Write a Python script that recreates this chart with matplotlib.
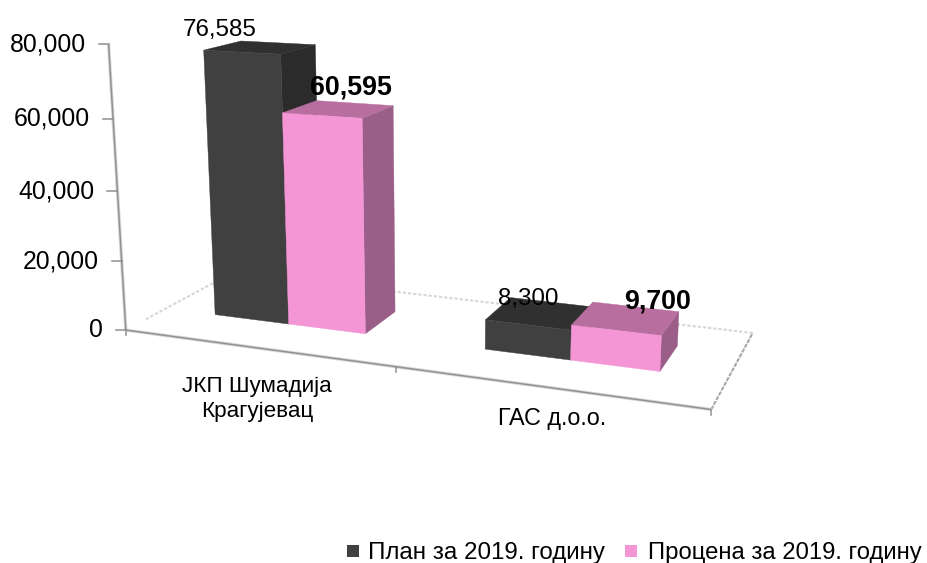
import numpy as np
import matplotlib
matplotlib.use("Agg")
import matplotlib.pyplot as plt
from matplotlib.patches import Polygon, Rectangle

plt.rcParams['font.family'] = ['Liberation Sans', 'DejaVu Sans']

# ---- data ----
categories = ["JКП Шумадија\nКрагујевац", "ГАС д.о.о."]
plan = [76585, 8300]
estimate = [60595, 9700]
series_names = ["План за 2019. годину", "Процена за 2019. годину"]
y_ticks = [0, 20000, 40000, 60000, 80000]
VMAX = 80000

# ---- style ----
DARK = dict(front="#404040", top="#303030", side="#2b2b2b")
PINK = dict(front="#F496D6", top="#B86F9F", side="#9A5E88")
HALF_W = 0.29
CENTERS = [0.49, 1.5]
D0, D1 = 0.35, 0.70

# ---- perspective scale: (category x, depth, value) -> canvas, calibrated once ----
CAL = [
    (0, 0, 0, 126, 328), (1, 0, 0, 397, 365), (2, 0, 0, 714, 406), (2, 1, 0, 752, 331),
    (0, 1, 0, 235, 273), (0, 0, VMAX, 110, 44), (0, 0, VMAX, 110, 44), (0, 0, 60000, 115, 117),
    (.20, D0, 0, 212, 315), (.49, D0, 0, 286, 325), (.78, D0, 0, 365, 335),
    (1.21, D0, 0, 485, 352), (1.5, D0, 0, 571, 362), (1.79, D0, 0, 660, 373),
    (.20, D0, 76585, 201, 49), (.49, D0, 76585, 280, 53),
    (.49, D0, 60595, 281, 116), (.78, D0, 60595, 361, 122), (.78, D0, 60595, 361, 122),
    (.78, D1, 60595, 395, 105), (.78, D1, 0, 396, 311),
    (.20, D1, 76585, 240, 39), (.49, D1, 76585, 317, 44),
    (1.79, D0, 9700, 660, 335), (1.79, D1, 9700, 679, 310), (1.21, D0, 8300, 485, 321),
]
A, b = [], []
for x, d, v, px, py in CAL:
    v = v / VMAX
    A.append([x, d, v, 1, 0, 0, 0, 0, -px * x, -px * d, -px * v]); b.append(px)
    A.append([0, 0, 0, 0, x, d, v, 1, -py * x, -py * d, -py * v]); b.append(py)
sol = np.linalg.lstsq(np.array(A, float), np.array(b, float), rcond=None)[0]
P = np.append(sol, 1.0).reshape(3, 4)


def proj(x, d, v):
    h = P @ np.array([x, d, v / VMAX, 1.0])
    return h[0] / h[2], h[1] / h[2]


fig = plt.figure(figsize=(9.27, 5.63), dpi=100)
ax = fig.add_axes([0, 0, 1, 1])
ax.set_xlim(0, 927)
ax.set_ylim(563, 0)
ax.axis("off")


def line(p, q, **kw):
    a, c = proj(*p), proj(*q)
    ax.plot([a[0], c[0]], [a[1], c[1]], solid_capstyle="butt", **kw)


# floor edges
dot = dict(color="#d6d6d6", lw=1.5, ls=(0, (1.5, 1.0)), zorder=1)
line((0, 0.17, 0), (0, 1, 0), **dot)
line((0, 1, 0), (2, 1, 0), **dot)
line((2, 0, 0), (2, 1, 0), color="#a8a8a8", lw=1.5, ls=(0, (2, 0.6)), zorder=1)
for col, lw in (("#d8d8d8", 2.4), ("#929292", 1.1)):
    line((0, 0, 0), (2, 0, 0), color=col, lw=lw, zorder=2)
    line((0, 0, 0), (0, 0, VMAX), color=col, lw=lw, zorder=2)

# ticks and labels of the value axis
for t in y_ticks:
    px, py = proj(0, 0, t)
    ax.plot([px - 10, px], [py, py], color="#8f8f8f", lw=1.1, zorder=2)
    ax.text(px - 23, py, f"{t:,}", ha="right", va="center", fontsize=17.8, color="black")
# ticks of the category axis
for x in range(3):
    px, py = proj(x, 0, 0)
    ax.plot([px, px], [py, py + 5], color="#8f8f8f", lw=1.1, zorder=2)


def bar(x0, x1, v, st, z):
    f = [proj(x0, D0, 0), proj(x1, D0, 0), proj(x1, D0, v), proj(x0, D0, v)]
    s = [proj(x1, D0, 0), proj(x1, D1, 0), proj(x1, D1, v), proj(x1, D0, v)]
    t = [proj(x0, D0, v), proj(x1, D0, v), proj(x1, D1, v), proj(x0, D1, v)]
    ax.add_patch(Polygon(s, fc=st["side"], ec=st["side"], lw=0.3, zorder=z))
    ax.add_patch(Polygon(t, fc=st["top"], ec=st["top"], lw=0.3, zorder=z))
    ax.add_patch(Polygon(f, fc=st["front"], ec=st["front"], lw=0.3, zorder=z + 0.1))


for i in range(len(categories)):
    c = CENTERS[i]
    bar(c - HALF_W, c, plan[i], DARK, 3 + i)
    bar(c, c + HALF_W, estimate[i], PINK, 3.5 + i)

# value labels, shifted from the middle of each bar top
plan_off = [(-41, -17), (-12, -14)]
est_off = [(12, -22), (32, -17)]
for i in range(len(categories)):
    c = CENTERS[i]
    px, py = proj(c - HALF_W / 2, (D0 + D1) / 2, plan[i])
    ax.text(px + plan_off[i][0], py + plan_off[i][1], f"{plan[i]:,}", ha="center", va="center",
            fontsize=17.4, color="black", zorder=10)
    px, py = proj(c + HALF_W / 2, (D0 + D1) / 2, estimate[i])
    ax.text(px + est_off[i][0], py + est_off[i][1], f"{estimate[i]:,}", ha="center", va="center",
            fontsize=19.3, fontweight="bold", color="black", zorder=10)

# category labels
ax.text(257, 399, categories[0], ha="center", va="center", fontsize=16.2, linespacing=1.3)
ax.text(552, 419, categories[1], ha="center", va="center", fontsize=16.8)

# legend
ax.add_patch(Rectangle((347, 545), 12, 12, fc=DARK["front"], ec="none"))
ax.text(368, 553, series_names[0], ha="left", va="center", fontsize=17.4)
ax.add_patch(Rectangle((625, 545), 12, 12, fc=PINK["front"], ec="none"))
ax.text(648, 553, series_names[1], ha="left", va="center", fontsize=17.2)

fig.savefig("out.png", dpi=100)
